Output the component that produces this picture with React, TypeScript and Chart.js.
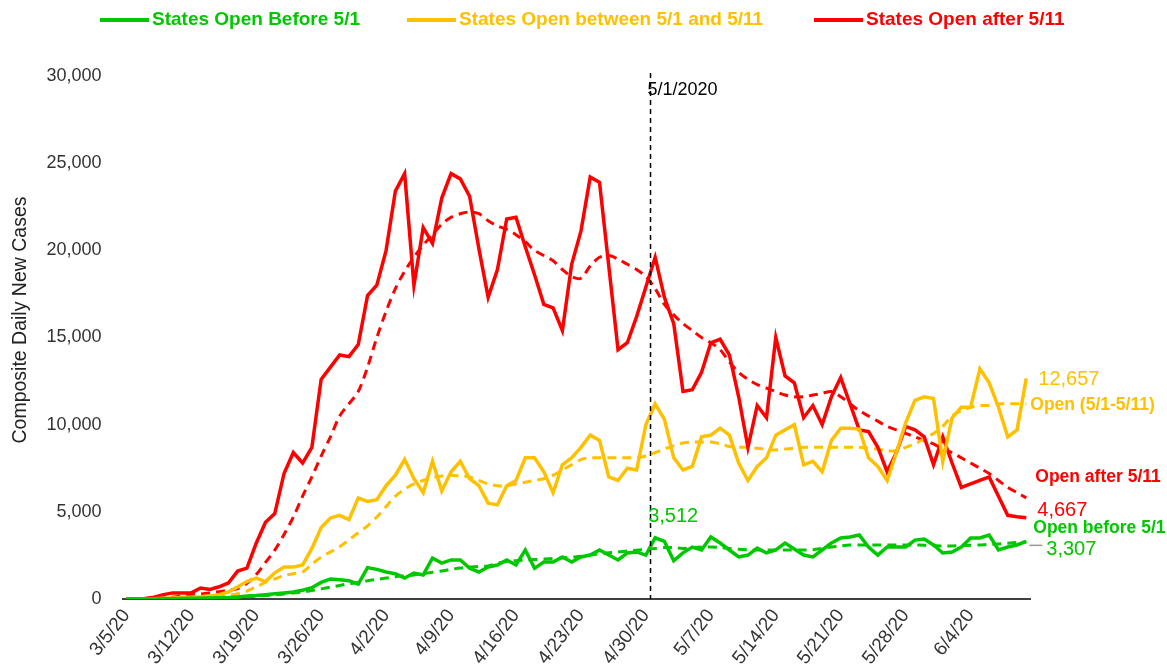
import React, { useEffect, useRef } from 'react';
import { Chart, registerables } from 'chart.js';

Chart.register(...registerables);

// ---------- data ----------
const tickDays = [0, 7, 14, 21, 28, 35, 42, 49, 56, 63, 70, 77, 84, 91];
const tickLabels = ['3/5/20', '3/12/20', '3/19/20', '3/26/20', '4/2/20', '4/9/20', '4/16/20', '4/23/20', '4/30/20', '5/7/20', '5/14/20', '5/21/20', '5/28/20', '6/4/20'];
const yTicks = [0, 5000, 10000, 15000, 20000, 25000, 30000];

// day index 0 = 3/5/20 ... 97 = 6/10/20
const redSolid = [0, 0, 30, 100, 250, 350, 350, 350, 630, 550, 700, 920, 1600, 1770, 3200, 4400, 4900, 7200, 8400, 7800, 8700, 12600, 13300, 14000, 13900, 14600, 17400, 18000, 20000, 23400, 24400, 18000, 21300, 20400, 23000, 24400, 24100, 23100, 20100, 17300, 18900, 21800, 21900, 20200, 18600, 16900, 16700, 15400, 19200, 21100, 24200, 23900, 19100, 14300, 14700, 16200, 17900, 19600, 17300, 15800, 11900, 12000, 13000, 14700, 14900, 14000, 11600, 8700, 11100, 10400, 15000, 12800, 12400, 10400, 11100, 10000, 11600, 12700, 11200, 9700, 9600, 8700, 7300, 8400, 9900, 9700, 9300, 7700, 9300, 7800, 6400, 6600, 6800, 7000, 5900, 4800, 4720, 4667];
const redAvg = [0, 0, 10, 30, 60, 100, 170, 230, 290, 350, 420, 500, 600, 900, 1400, 2100, 2800, 3700, 4700, 5900, 7000, 8200, 9300, 10500, 11200, 11900, 13300, 15000, 16500, 17800, 18800, 19600, 20300, 20900, 21500, 21900, 22100, 22200, 22100, 21700, 21400, 21200, 20900, 20500, 20000, 19700, 19400, 18900, 18500, 18400, 19100, 19600, 19700, 19500, 19200, 18900, 18500, 17800, 16900, 16300, 15800, 15400, 15000, 14700, 14300, 13600, 13000, 12600, 12300, 12100, 11900, 11700, 11600, 11600, 11700, 11800, 11900, 11600, 11200, 10800, 10500, 10200, 9900, 9700, 9500, 9300, 9100, 8900, 8600, 8400, 8100, 7800, 7500, 7200, 6800, 6400, 6100, 5800];
const yellowSolid = [0, 0, 0, 20, 40, 60, 80, 100, 130, 180, 250, 400, 700, 1000, 1200, 1000, 1500, 1830, 1830, 1950, 2900, 4100, 4650, 4800, 4550, 5800, 5600, 5700, 6500, 7100, 8000, 6900, 6100, 7900, 6200, 7300, 7900, 6900, 6500, 5500, 5400, 6500, 6800, 8100, 8100, 7300, 6100, 7700, 8100, 8700, 9400, 9100, 7000, 6800, 7500, 7400, 10000, 11200, 10300, 8100, 7400, 7600, 9300, 9400, 9800, 9400, 7800, 6800, 7600, 8100, 9400, 9700, 10000, 7700, 7900, 7300, 9100, 9800, 9800, 9750, 8100, 7600, 6800, 8400, 10100, 11400, 11600, 11500, 7900, 10400, 11000, 11000, 13200, 12400, 11000, 9300, 9700, 12657];
const yellowAvg = [0, 0, 0, 5, 10, 20, 35, 50, 70, 100, 140, 200, 300, 450, 700, 950, 1150, 1350, 1450, 1550, 2000, 2400, 2700, 3000, 3400, 3800, 4200, 4700, 5300, 5900, 6300, 6600, 6800, 6950, 7050, 7100, 7050, 7000, 6800, 6600, 6500, 6500, 6600, 6700, 6800, 6900, 7100, 7400, 7700, 8000, 8100, 8100, 8100, 8100, 8100, 8100, 8200, 8400, 8600, 8800, 8950, 9000, 9000, 9000, 8900, 8750, 8700, 8700, 8650, 8600, 8550, 8600, 8650, 8700, 8700, 8700, 8700, 8700, 8700, 8700, 8650, 8600, 8500, 8500, 8700, 8900, 9200, 9500, 9900, 10500, 10800, 11000, 11100, 11100, 11200, 11200, 11200, 11200];
const greenSolid = [0, 0, 0, 0, 10, 20, 30, 40, 50, 60, 70, 80, 120, 170, 200, 250, 300, 350, 400, 500, 650, 950, 1150, 1100, 1050, 850, 1800, 1700, 1550, 1450, 1200, 1490, 1380, 2350, 2060, 2240, 2240, 1770, 1550, 1840, 1950, 2240, 1950, 2810, 1770, 2120, 2120, 2410, 2120, 2410, 2520, 2810, 2520, 2240, 2640, 2700, 2520, 3512, 3300, 2200, 2650, 2980, 2810, 3560, 3210, 2810, 2410, 2520, 2920, 2640, 2810, 3210, 2870, 2520, 2410, 2810, 3210, 3500, 3560, 3670, 2980, 2520, 2980, 2980, 2980, 3380, 3440, 3100, 2640, 2700, 2980, 3500, 3500, 3670, 2810, 2980, 3100, 3307];
const greenAvg = [0, 0, 0, 0, 0, 10, 20, 30, 40, 50, 60, 80, 100, 130, 160, 200, 240, 290, 340, 400, 480, 580, 680, 780, 870, 950, 1050, 1130, 1200, 1280, 1330, 1380, 1450, 1530, 1610, 1700, 1780, 1830, 1870, 1900, 2050, 2150, 2200, 2230, 2260, 2290, 2320, 2350, 2400, 2450, 2520, 2600, 2650, 2700, 2750, 2800, 2850, 2900, 2950, 2950, 2900, 2950, 2980, 2980, 2950, 2900, 2850, 2820, 2810, 2810, 2810, 2810, 2810, 2810, 2830, 2900, 2980, 3050, 3100, 3100, 3100, 3100, 3100, 3100, 3100, 3100, 3080, 3060, 3040, 3040, 3060, 3080, 3100, 3130, 3160, 3200, 3240, 3270];

const seriesNames = ['States Open Before 5/1', 'States Open between 5/1 and 5/11', 'States Open after 5/11'];
const endNames = ['Open before 5/1', 'Open (5/1-5/11)', 'Open after 5/11'];
const peakLabelDay = 57; // 5/1/20
const markerDay = 56.5;
const markerText = '5/1/2020';

// ---------- styles ----------
const GREEN = '#00C800';
const YELLOW = '#FFC000';
const RED = '#FF0000';
const FONT = "'Liberation Sans', Arial, sans-serif";

const toXY = (arr: number[]) => arr.map((v, i) => ({ x: i, y: v }));
const fmt = (v: number) => Number(v).toLocaleString('en-US');

const overlay = {
  id: 'overlay',
  afterDatasetsDraw(chart: any) {
    const { ctx, chartArea } = chart;
    const xs = chart.scales.x;
    const ys = chart.scales.y;
    ctx.save();

    // vertical marker line
    const vx = xs.getPixelForValue(markerDay);
    ctx.strokeStyle = '#000';
    ctx.lineWidth = 1.5;
    ctx.setLineDash([5, 4]);
    ctx.beginPath();
    ctx.moveTo(vx, chartArea.top - 3);
    ctx.lineTo(vx, chartArea.bottom);
    ctx.stroke();
    ctx.setLineDash([]);
    ctx.fillStyle = '#000';
    ctx.font = `18px ${FONT}`;
    ctx.textAlign = 'left';
    ctx.textBaseline = 'middle';
    ctx.fillText(markerText, vx - 3, 90);

    // legend
    const legend = [
      { text: seriesNames[0], color: GREEN, x: 100 },
      { text: seriesNames[1], color: YELLOW, x: 407 },
      { text: seriesNames[2], color: RED, x: 814 },
    ];
    legend.forEach((l) => {
      ctx.strokeStyle = l.color;
      ctx.lineWidth = 4;
      ctx.beginPath();
      ctx.moveTo(l.x, 20);
      ctx.lineTo(l.x + 49, 20);
      ctx.stroke();
      ctx.fillStyle = l.color;
      ctx.font = `bold 19px ${FONT}`;
      ctx.textAlign = 'left';
      ctx.textBaseline = 'middle';
      ctx.fillText(l.text, l.x + 52, 20);
    });

    // y title
    ctx.save();
    ctx.translate(21, 320);
    ctx.rotate(-Math.PI / 2);
    ctx.fillStyle = '#222';
    ctx.font = `19.5px ${FONT}`;
    ctx.textAlign = 'center';
    ctx.textBaseline = 'middle';
    ctx.fillText('Composite Daily New Cases', 0, 0);
    ctx.restore();

    // end labels
    const last = redSolid.length - 1;
    const lx = xs.getPixelForValue(last);
    const yv = (v: number) => ys.getPixelForValue(v);
    ctx.textAlign = 'left';
    ctx.textBaseline = 'middle';

    ctx.font = `20px ${FONT}`;
    ctx.fillStyle = YELLOW;
    ctx.fillText(fmt(yellowSolid[last]), lx + 12, yv(yellowSolid[last]) + 1);
    ctx.fillStyle = RED;
    ctx.fillText(fmt(redSolid[last]), lx + 11, yv(redSolid[last]) - 7);
    ctx.fillStyle = GREEN;
    ctx.fillText(fmt(greenSolid[last]), lx + 20, yv(greenSolid[last]) + 8);
    ctx.fillText(fmt(greenSolid[peakLabelDay]), xs.getPixelForValue(peakLabelDay) - 7, yv(greenSolid[peakLabelDay]) - 21);

    ctx.font = `bold 17.5px ${FONT}`;
    ctx.fillStyle = YELLOW;
    ctx.fillText(endNames[1], lx + 4, yv(yellowSolid[last]) + 27);
    ctx.fillStyle = RED;
    ctx.fillText(endNames[2], lx + 9, yv(redSolid[last]) - 40);
    ctx.fillStyle = GREEN;
    ctx.fillText(endNames[0], lx + 7, yv(greenSolid[last]) - 13);

    // leader line for green end label
    ctx.strokeStyle = '#999';
    ctx.lineWidth = 1.5;
    ctx.beginPath();
    ctx.moveTo(lx + 3, yv(greenSolid[last]) + 4);
    ctx.lineTo(lx + 16, yv(greenSolid[last]) + 4);
    ctx.stroke();

    ctx.restore();
  },
};

export default function App() {
  const ref = useRef<HTMLCanvasElement | null>(null);

  useEffect(() => {
    if (!ref.current) return;
    const solid = (label: string, data: number[], color: string) => ({
      label,
      data: toXY(data),
      borderColor: color,
      backgroundColor: color,
      borderWidth: 3.5,
      pointRadius: 0,
      tension: 0,
      fill: false,
    });
    const dashed = (label: string, data: number[], color: string) => ({
      label,
      data: toXY(data),
      borderColor: color,
      backgroundColor: color,
      borderWidth: 3,
      borderDash: [9, 6],
      pointRadius: 0,
      tension: 0.3,
      fill: false,
    });

    const chart = new Chart(ref.current, {
      type: 'line',
      data: {
        datasets: [
          solid(seriesNames[0], greenSolid, GREEN),
          dashed(seriesNames[0] + ' avg', greenAvg, GREEN),
          solid(seriesNames[1], yellowSolid, YELLOW),
          solid(seriesNames[2], redSolid, RED),
          dashed(seriesNames[1] + ' avg', yellowAvg, YELLOW),
          dashed(seriesNames[2] + ' avg', redAvg, RED),
        ] as any,
      },
      options: {
        responsive: false,
        animation: false,
        layout: { padding: { top: 76, right: 137, left: 0, bottom: 0 } },
        plugins: { legend: { display: false }, tooltip: { enabled: false } },
        scales: {
          x: {
            type: 'linear',
            min: -0.4,
            max: 97.4,
            afterBuildTicks: (s: any) => {
              s.ticks = tickDays.map((v) => ({ value: v }));
            },
            afterFit: (s: any) => {
              s.height = 72;
            },
            ticks: {
              autoSkip: false,
              minRotation: 52,
              maxRotation: 52,
              padding: 6,
              color: '#333',
              font: { family: FONT, size: 19 },
              callback: (v: any) => {
                const i = tickDays.indexOf(Number(v));
                return i >= 0 ? tickLabels[i] : '';
              },
            },
            grid: { display: false, drawTicks: false },
            border: { display: true, color: '#404040', width: 2 },
          },
          y: {
            min: 0,
            max: 30000,
            afterBuildTicks: (s: any) => {
              s.ticks = yTicks.map((v) => ({ value: v }));
            },
            afterFit: (s: any) => {
              s.width = 122.6;
            },
            ticks: {
              padding: 21,
              color: '#333',
              font: { family: FONT, size: 18 },
              callback: (v: any) => fmt(v),
            },
            grid: { display: false, drawTicks: false },
            border: { display: false },
          },
        },
      } as any,
      plugins: [overlay],
    });
    return () => chart.destroy();
  }, []);

  return (
    <div style={{ position: 'fixed', left: 0, top: 0, width: 1167, height: 671, background: '#fff' }}>
      <canvas ref={ref} width={1167} height={671} style={{ display: 'block' }} />
    </div>
  );
}
